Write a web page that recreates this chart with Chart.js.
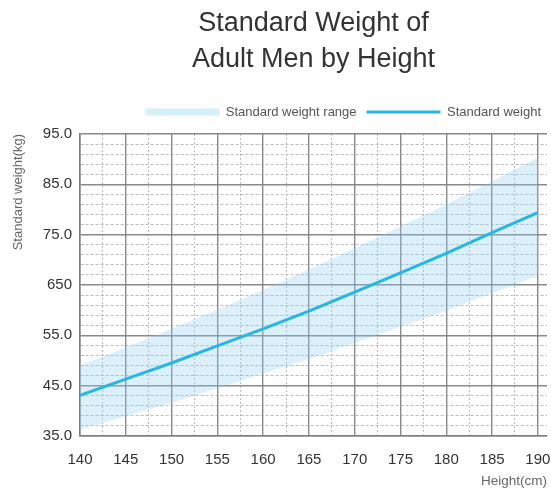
<!DOCTYPE html>
<html>
<head>
<meta charset="utf-8">
<script src="https://cdn.jsdelivr.net/npm/chart.js@4.4.1/dist/chart.umd.min.js"></script>
<style>
  html, body { margin: 0; padding: 0; background: #ffffff; }
  #wrap { width: 551px; height: 493px; position: relative; }
</style>
</head>
<body>
<div id="wrap"><canvas id="c" width="551" height="493"></canvas></div>
<script>
// ---- data ----
const heights      = [140, 145, 150, 155, 160, 165, 170, 175, 180, 185, 190];
const stdWeight    = [43.1, 46.3, 49.5, 52.9, 56.3, 59.8, 63.6, 67.4, 71.3, 75.4, 79.4];
const rangeLower   = [36.3, 38.9, 41.6, 44.5, 47.4, 50.3, 53.5, 56.7, 59.9, 63.4, 66.8];
const rangeUpper   = [49.0, 52.6, 56.3, 60.1, 64.0, 68.1, 72.3, 76.6, 81.0, 85.6, 90.3];
const yTickValues  = [35, 45, 55, 65, 75, 85, 95];
const yTickLabels  = ['35.0', '45.0', '55.0', '650', '75.0', '85.0', '95.0'];
const xTickValues  = [140, 145, 150, 155, 160, 165, 170, 175, 180, 185, 190];
const xTickLabels  = ['140', '145', '150', '155', '160', '165', '170', '175', '180', '185', '190'];
const titleLines   = ['Standard Weight of', 'Adult Men by Height'];
const legendLabels = ['Standard weight range', 'Standard weight'];
const xTitle = 'Height(cm)';
const yTitle = 'Standard weight(kg)';

const LINE_COLOR = 'rgb(41,182,226)';
const BAND_COLOR = 'rgba(135,206,240,0.30)';
const MAJOR = 'rgba(125,125,125,0.9)';
const MINOR = 'rgba(160,160,160,0.7)';
const FONT = "'Liberation Sans', Arial, sans-serif";

const pts = arr => heights.map((h, i) => ({ x: h, y: arr[i] }));
const near = (a, b) => Math.abs(a - b) < 1e-6;
const isYMajor = v => yTickValues.some(t => near(t, v));
const isXMajor = v => xTickValues.some(t => near(t, v));
const isXMinor = v => near(v / 2.5, Math.round(v / 2.5));

new Chart(document.getElementById('c'), {
  type: 'line',
  data: {
    datasets: [
      { label: legendLabels[0], data: pts(rangeUpper), fill: '+1', backgroundColor: BAND_COLOR,
        borderWidth: 0, borderColor: 'rgba(0,0,0,0)', pointRadius: 0, order: 3 },
      { label: 'lower', data: pts(rangeLower), fill: false, borderWidth: 0,
        borderColor: 'rgba(0,0,0,0)', pointRadius: 0, order: 2 },
      { label: legendLabels[1], data: pts(stdWeight), fill: false, borderColor: LINE_COLOR,
        borderWidth: 3, pointRadius: 0, tension: 0, order: 1 }
    ]
  },
  options: {
    responsive: false,
    animation: false,
    devicePixelRatio: 1,
    layout: { padding: { left: 0, right: 0, top: 0, bottom: 0 } },
    plugins: {
      tooltip: { enabled: false },
      title: {
        display: true,
        text: titleLines,
        fullSize: false,
        color: '#333333',
        font: { family: FONT, size: 27, weight: 'normal', lineHeight: 1.333 },
        padding: { top: 6, bottom: 17.5 }
      },
      subtitle: {
        display: true,
        text: '',
        weight: 500,
        padding: 0,
        font: { size: 5.5, lineHeight: 1 }
      },
      legend: {
        display: true,
        align: 'end',
        labels: {
          usePointStyle: true,
          pointStyleWidth: 74,
          boxHeight: 7,
          padding: 10,
          color: '#555555',
          font: { family: FONT, size: 13 },
          generateLabels: () => [
            { text: legendLabels[0], fillStyle: 'rgba(135,206,240,0.35)', strokeStyle: 'rgba(0,0,0,0)',
              lineWidth: 0, pointStyle: 'rect', hidden: false, datasetIndex: 0, fontColor: '#555555' },
            { text: legendLabels[1], fillStyle: LINE_COLOR, strokeStyle: LINE_COLOR,
              lineWidth: 3, pointStyle: 'line', hidden: false, datasetIndex: 2, fontColor: '#555555' }
          ]
        }
      }
    },
    scales: {
      x: {
        type: 'linear',
        min: 140,
        max: 191,
        bounds: 'data',
        ticks: {
          stepSize: 2.5,
          includeBounds: false,
          autoSkip: false,
          maxRotation: 0,
          padding: 15,
          color: '#333333',
          font: { family: FONT, size: 15 },
          callback: v => { const i = xTickValues.findIndex(t => near(t, v)); return i >= 0 ? xTickLabels[i] : ''; }
        },
        grid: {
          drawTicks: false,
          color: ctx => { const v = ctx.tick ? ctx.tick.value : 0; return isXMajor(v) ? MAJOR : (isXMinor(v) ? MINOR : 'rgba(0,0,0,0)'); },
          lineWidth: ctx => { const v = ctx.tick ? ctx.tick.value : 0; return isXMajor(v) ? 1.4 : 1; }
        },
        border: {
          display: true, color: MAJOR, width: 1.6,
          dash: ctx => (ctx.tick && !isXMajor(ctx.tick.value)) ? [2, 2] : []
        },
        title: {
          display: true, text: xTitle, align: 'end', color: '#666666',
          font: { family: FONT, size: 13.5 }, padding: { top: 4, bottom: 4 }
        },
        afterFit: scale => { scale.height = 57; scale.paddingRight = 4; scale.paddingLeft = 0; }
      },
      y: {
        type: 'linear',
        min: 35,
        max: 95,
        ticks: {
          stepSize: 2,
          autoSkip: false,
          padding: 8,
          color: '#333333',
          font: { family: FONT, size: 15 },
          callback: v => { const i = yTickValues.findIndex(t => near(t, v)); return i >= 0 ? yTickLabels[i] : ''; }
        },
        grid: {
          drawTicks: false,
          color: ctx => (ctx.tick && isYMajor(ctx.tick.value)) ? MAJOR : MINOR,
          lineWidth: ctx => (ctx.tick && isYMajor(ctx.tick.value)) ? 1.4 : 1
        },
        border: {
          display: true, color: MAJOR, width: 1.6,
          dash: ctx => (ctx.tick && !isYMajor(ctx.tick.value)) ? [3, 2] : []
        },
        title: {
          display: true, text: yTitle, align: 'end', color: '#666666',
          font: { family: FONT, size: 13 }, padding: { top: 11, bottom: 2 }
        },
        afterFit: scale => { scale.width = 80; }
      }
    }
  }
});
</script>
</body>
</html>
